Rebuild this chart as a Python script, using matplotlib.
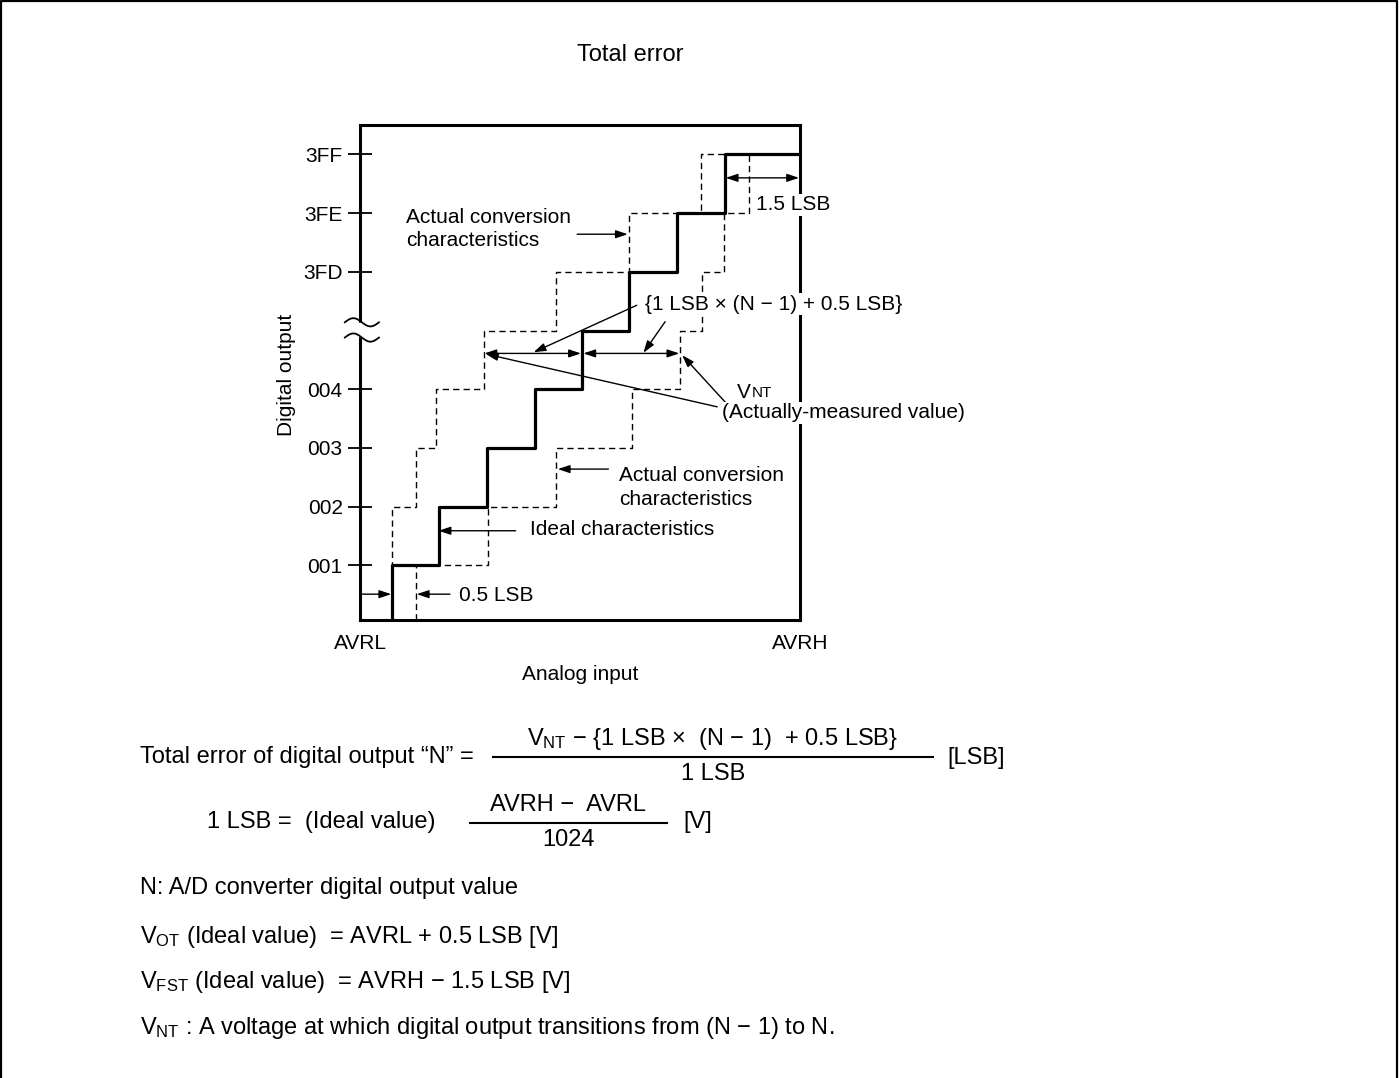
import matplotlib
matplotlib.use('Agg')
import matplotlib.pyplot as plt
import numpy as np
from matplotlib.lines import Line2D

plt.rcParams['font.family'] = ['Liberation Sans', 'DejaVu Sans']
plt.rcParams['mathtext.fontset'] = 'custom'
plt.rcParams['mathtext.rm'] = 'Liberation Sans'
plt.rcParams['mathtext.it'] = 'Liberation Sans:italic'

# output codes on the y axis (5 = the broken part of the axis)
levels = [1, 2, 3, 4, 5, 6, 7, 8]
tick_levels = [1, 2, 3, 4, 6, 7, 8]
tick_labels = ['001', '002', '003', '004', '3FD', '3FE', '3FF']

# analog input at which the output steps up to each level (LSB units from AVRL)
ideal_x = [0.68, 1.66, 2.68, 3.69, 4.69, 5.69, 6.71, 7.72]
early_x = [0.68, 0.68, 1.18, 1.61, 2.63, 4.14, 5.68, 7.21]
late_x = [1.18, 2.71, 4.14, 5.74, 6.77, 7.22, 7.69, 8.22]

x_max = 9.3
y_min, y_max = 0.07, 8.5

W, H = 1400, 1078


def fx(x):
    return x / W


def fy(y):
    return 1 - y / H


def step_xy(trans):
    xs = [trans[0]] + trans + [x_max]
    ys = [y_min] + levels + [levels[-1]]
    return xs, ys


fig = plt.figure(figsize=(14, 10.78), dpi=100)
ax = fig.add_axes([fx(360), fy(620), 440 / W, 495 / H])
ax.set_xlim(0, x_max)
ax.set_ylim(y_min, y_max)
for s in ax.spines.values():
    s.set_linewidth(2.2)

xs, ys = step_xy(ideal_x)
ax.step(xs, ys, where='post', color='black', lw=2.3, zorder=4)
for tr in (early_x, late_x):
    xs, ys = step_xy(tr)
    ax.step(xs, ys, where='post', color='black', lw=1.0, dashes=(4.5, 3), zorder=3)

ax.set_yticks(tick_levels, tick_labels, fontsize=15)
ax.tick_params(axis='y', direction='inout', length=17, width=1.3, pad=4)
ax.set_xticks([0, x_max], ['AVRL', 'AVRH'], fontsize=15)
ax.tick_params(axis='x', length=0, pad=10)

ax.text(-0.166, 0.495, 'Digital output', rotation=90, ha='center', va='center',
        fontsize=15, transform=ax.transAxes)
fig.text(fx(580), fy(675), 'Analog input', ha='center', va='center', fontsize=15)

# axis break mark
t = np.linspace(0, 1, 60)
bx = -0.32 + 0.72 * t
for yc in (5.14, 4.88):
    ax.plot(bx, yc + 0.07 * np.sin(2 * np.pi * t), color='black', lw=1.3,
            clip_on=False, zorder=6)
ax.fill_between([-0.12, 0.12], 4.9, 5.12, color='white', clip_on=False, zorder=5)

arrow = dict(arrowstyle='-|>,head_length=0.6,head_width=0.2', color='black',
             lw=1.0, mutation_scale=12, shrinkA=0, shrinkB=0)
darrow = dict(arrowstyle='<|-|>,head_length=0.6,head_width=0.2', color='black',
              lw=1.0, mutation_scale=12, shrinkA=0, shrinkB=0)

ax.annotate('', xy=(2.63, 4.61), xytext=(4.67, 4.61), arrowprops=darrow)
ax.annotate('', xy=(4.72, 4.61), xytext=(6.75, 4.61), arrowprops=darrow)
ax.annotate('', xy=(3.67, 4.63), xytext=(5.85, 5.43), arrowprops=arrow)
ax.annotate('', xy=(5.99, 4.62), xytext=(6.45, 5.15), arrowprops=arrow)
ax.annotate('', xy=(2.66, 4.6), xytext=(7.55, 3.7), arrowprops=arrow)
ax.annotate('', xy=(6.81, 4.58), xytext=(7.72, 3.78), arrowprops=arrow)
ax.annotate('', xy=(7.73, 7.6), xytext=(x_max - 0.02, 7.6), arrowprops=darrow)
ax.annotate('', xy=(5.66, 6.64), xytext=(4.59, 6.64), arrowprops=arrow)
ax.annotate('', xy=(4.18, 2.64), xytext=(5.25, 2.64), arrowprops=arrow)
ax.annotate('', xy=(1.66, 1.59), xytext=(3.29, 1.59), arrowprops=arrow)
ax.annotate('', xy=(0.66, 0.51), xytext=(0.0, 0.51), arrowprops=arrow)
ax.annotate('', xy=(1.2, 0.51), xytext=(1.9, 0.51), arrowprops=arrow)

wbox = dict(fc='white', ec='none', pad=1)
ax.text(0.98, 6.73, 'Actual conversion\ncharacteristics', fontsize=15,
        ha='left', va='center', linespacing=1.3)
ax.text(5.47, 2.33, 'Actual conversion\ncharacteristics', fontsize=15,
        ha='left', va='center', linespacing=1.3)
ax.text(3.59, 1.61, 'Ideal characteristics', fontsize=15, ha='left', va='center')
ax.text(2.09, 0.49, '0.5 LSB', fontsize=15, ha='left', va='center')
ax.text(8.37, 7.14, '1.5 LSB', fontsize=15, ha='left', va='center', bbox=wbox, zorder=7)
ax.text(6.03, 5.45, '{1 LSB \u00d7 (N \u2212 1) + 0.5 LSB}', fontsize=15,
        ha='left', va='center', bbox=wbox, zorder=7)
ax.text(7.97, 3.95, 'V', fontsize=15, ha='left', va='center')
ax.text(8.28, 3.93, 'NT', fontsize=11, ha='left', va='center')
ax.text(7.65, 3.6, '(Actually-measured value)', fontsize=15, ha='left',
        va='center', bbox=wbox, zorder=7)

fig.text(fx(630), fy(55), 'Total error', ha='center', va='center', fontsize=17)

# formulas under the chart
fs = 17
fig.text(fx(140), fy(763), 'Total error of digital output \u201cN\u201d =', fontsize=fs,
         va='baseline')
fig.text(fx(713), fy(745), 'V$_{\\mathrm{NT}}$ \u2212 {1 LSB \u00d7  (N \u2212 1)  + 0.5 LSB}',
         fontsize=fs, ha='center', va='baseline')
fig.add_artist(Line2D([fx(493), fx(933)], [fy(757), fy(757)], color='black', lw=1.5))
fig.text(fx(713), fy(780), '1 LSB', fontsize=fs, ha='center', va='baseline')
fig.text(fx(947), fy(764), '[LSB]', fontsize=fs, va='baseline')

fig.text(fx(207), fy(828), '1 LSB =  (Ideal value)', fontsize=fs, va='baseline')
fig.text(fx(568), fy(811), 'AVRH \u2212  AVRL', fontsize=fs, ha='center', va='baseline')
fig.add_artist(Line2D([fx(470), fx(667)], [fy(823), fy(823)], color='black', lw=1.5))
fig.text(fx(568), fy(846), '1024', fontsize=fs, ha='center', va='baseline')
fig.text(fx(683), fy(828), '[V]', fontsize=fs, va='baseline')

fig.text(fx(140), fy(894), 'N: A/D converter digital output value', fontsize=fs, va='baseline')
fig.text(fx(140), fy(943), 'V$_{\\mathrm{OT}}$ (Ideal value)  = AVRL + 0.5 LSB [V]',
         fontsize=fs, va='baseline')
fig.text(fx(140), fy(988), 'V$_{\\mathrm{FST}}$ (Ideal value)  = AVRH \u2212 1.5 LSB [V]',
         fontsize=fs, va='baseline')
fig.text(fx(140), fy(1034),
         'V$_{\\mathrm{NT}}$ : A voltage at which digital output transitions from (N \u2212 1) to N.',
         fontsize=fs, va='baseline')

# outer frame (open at the bottom)
fig.add_artist(Line2D([fx(1), fx(1), fx(1397), fx(1397)],
                      [fy(1078), fy(1), fy(1), fy(1078)], color='black', lw=1.6))

fig.savefig('out.png', dpi=100)
